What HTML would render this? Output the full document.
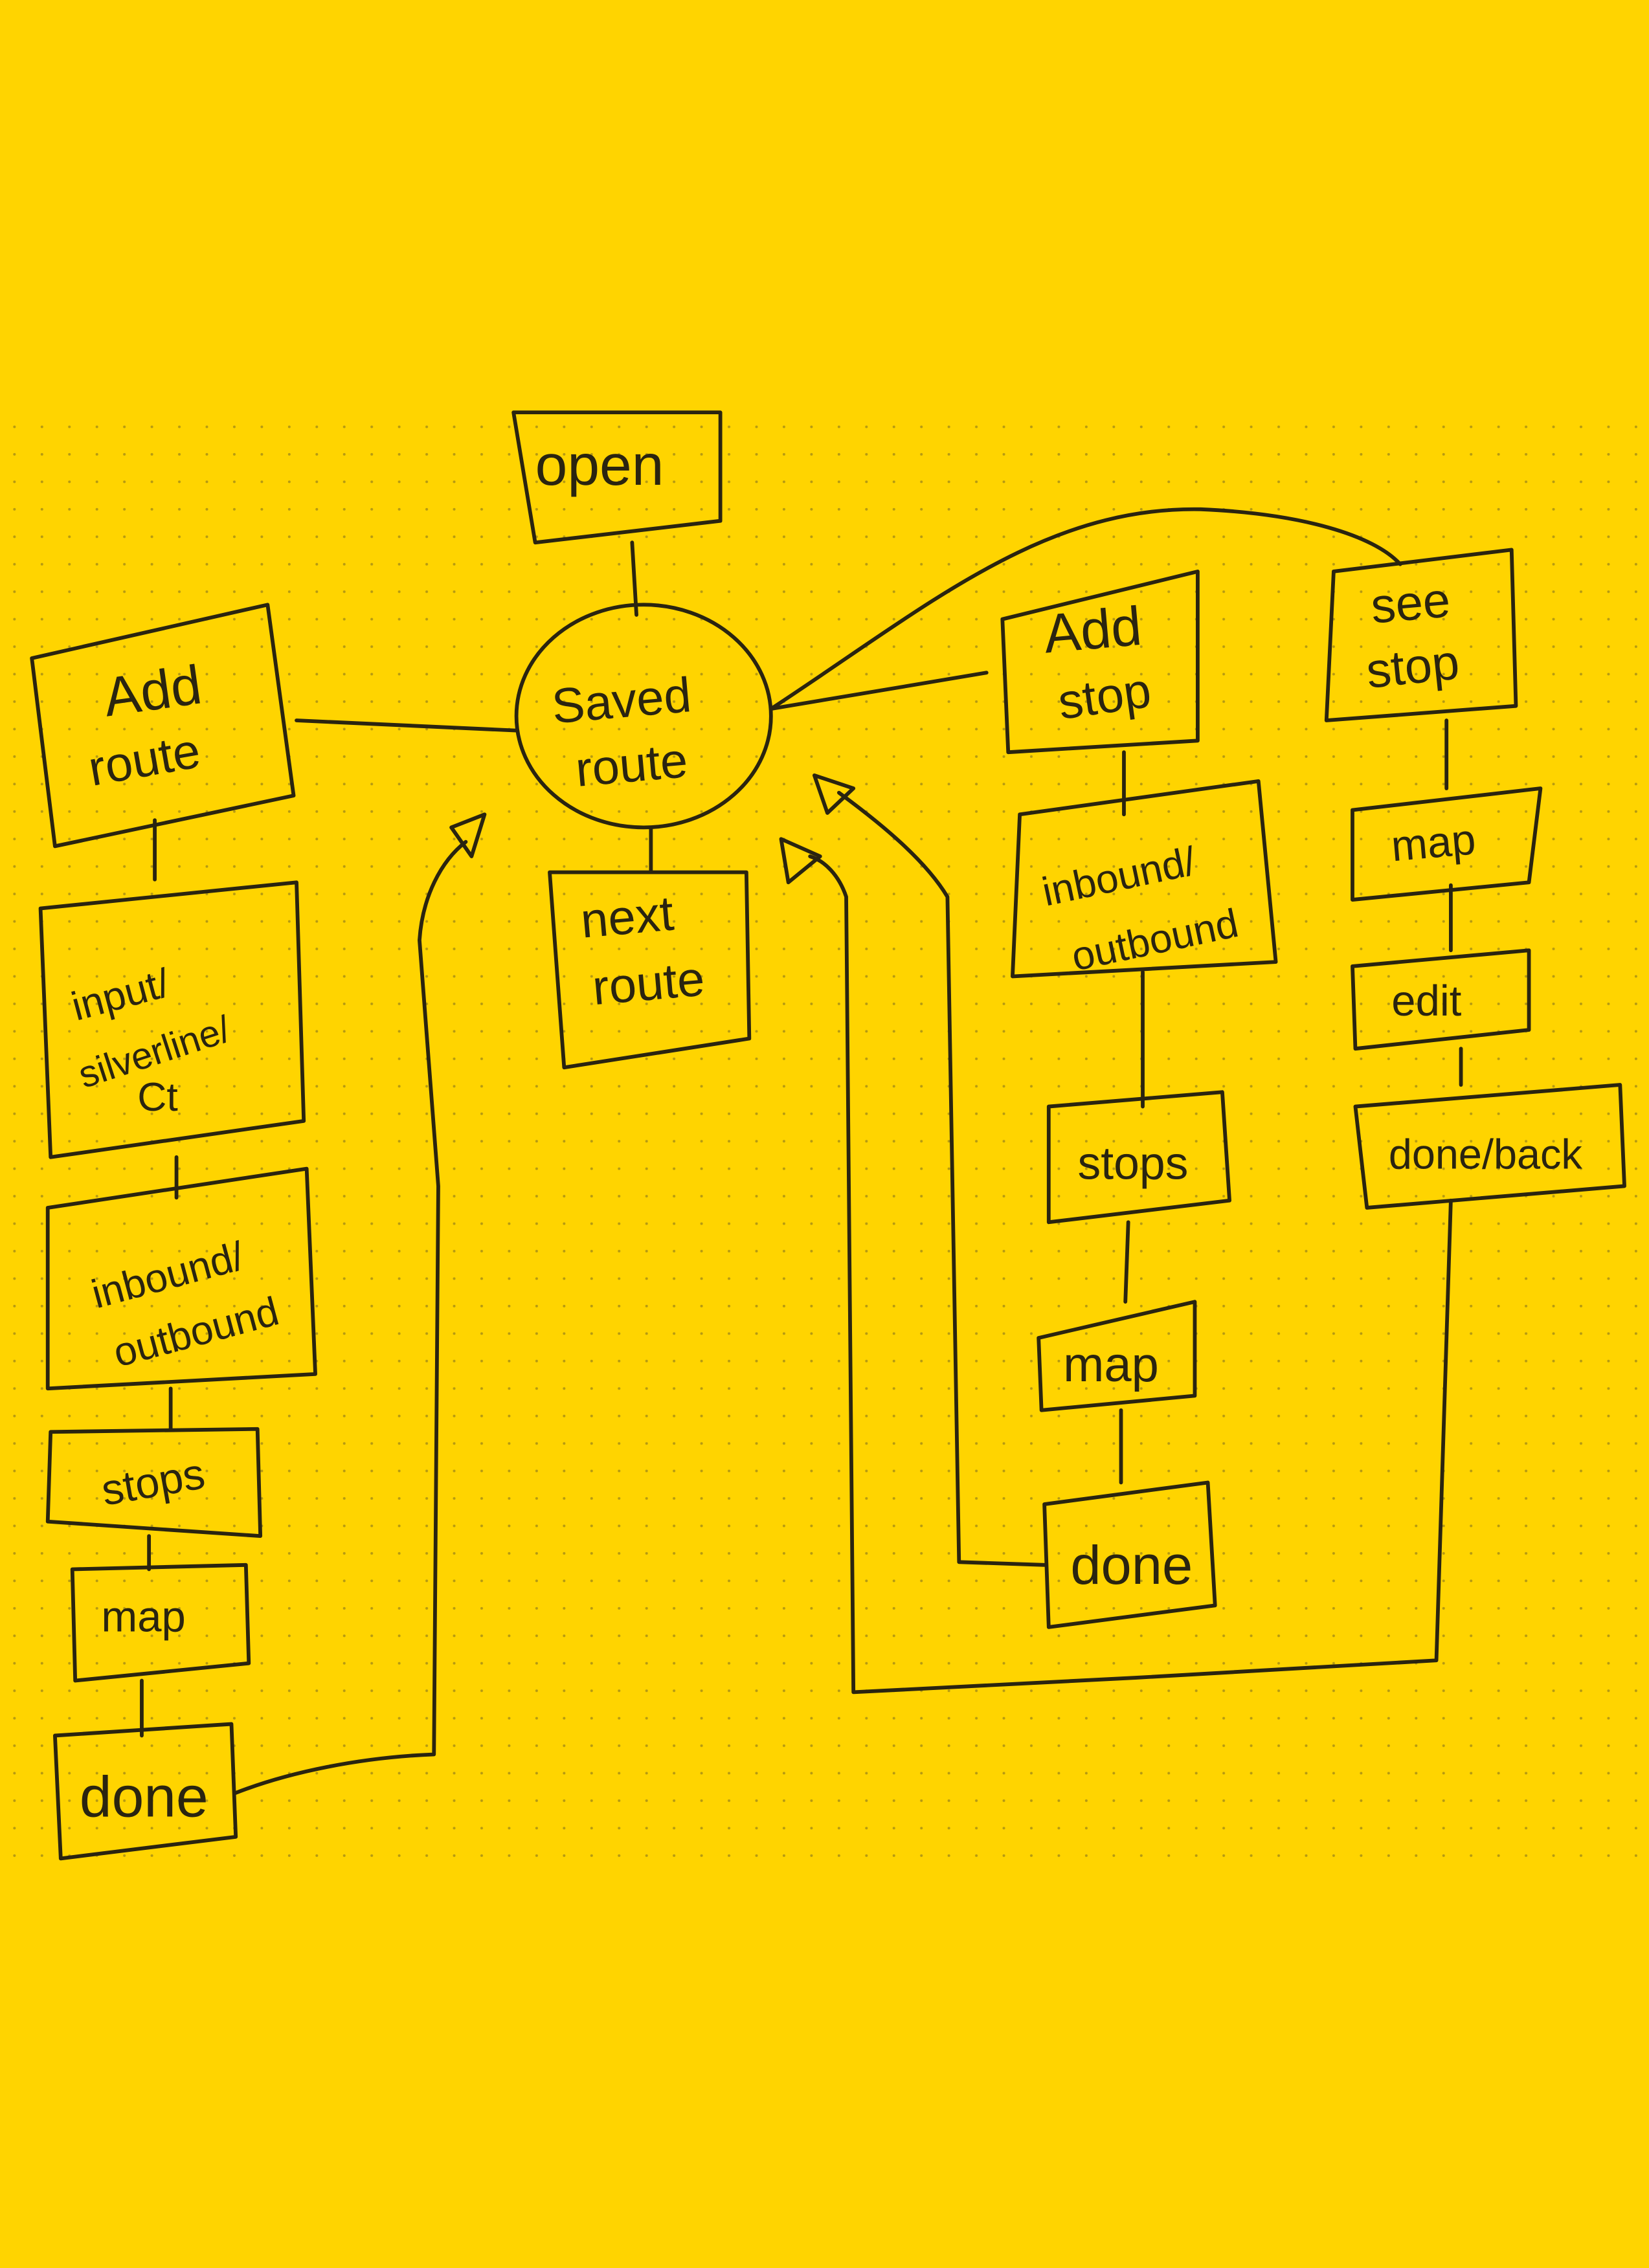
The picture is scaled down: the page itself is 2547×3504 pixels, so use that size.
<!DOCTYPE html>
<html><head><meta charset="utf-8"><style>
html,body{margin:0;padding:0;background:#FFD400;}
svg{display:block;}
text{font-family:"Liberation Sans",sans-serif;fill:#2a2410;}
</style></head><body>
<svg width="2547" height="3504" viewBox="0 0 1140 1568" xmlns="http://www.w3.org/2000/svg">
<defs>
<pattern id="dots" x="0" y="0" width="19" height="19" patternUnits="userSpaceOnUse">
<circle cx="10" cy="10" r="0.9" fill="#7a6a20" opacity="0.55"/>
</pattern>
</defs>
<rect width="1140" height="1568" fill="#FFD400"/>
<rect x="0" y="290" width="1140" height="1005" fill="url(#dots)"/>
<g fill="none" stroke="#2a2410" stroke-width="2.6" stroke-linejoin="round" stroke-linecap="round">
<!-- boxes -->
<polygon points="355,285 498,285 498,360 370,375"/>
<ellipse cx="445" cy="495" rx="88" ry="77"/>
<polygon points="380,603 516,603 518,718 390,738"/>
<polygon points="22,455 185,418 203,550 38,585"/>
<polygon points="28,628 205,610 210,775 35,800"/>
<polygon points="33,835 212,808 218,950 33,960"/>
<polygon points="35,990 178,988 180,1062 33,1052"/>
<polygon points="50,1085 170,1082 172,1150 52,1162"/>
<polygon points="38,1200 160,1192 163,1270 42,1285"/>
<polygon points="693,428 828,395 828,512 697,520"/>
<polygon points="705,563 870,540 882,665 700,675"/>
<polygon points="725,765 845,755 850,830 725,845"/>
<polygon points="718,925 826,900 826,965 720,975"/>
<polygon points="722,1040 835,1025 840,1110 725,1125"/>
<polygon points="922,395 1045,380 1048,488 917,498"/>
<polygon points="935,560 1065,545 1057,610 935,622"/>
<polygon points="935,668 1057,657 1057,712 937,725"/>
<polygon points="937,765 1120,750 1123,820 945,835"/>
<!-- connectors -->
<path d="M437,375 L440,425"/>
<path d="M205,498 L357,505"/>
<path d="M450,572 L450,603"/>
<path d="M533,490 L682,465"/>
<path d="M533,490 C640,420 720,350 830,352 C900,355 950,370 968,390"/>
<path d="M107,567 L107,608"/>
<path d="M122,800 L122,828"/>
<path d="M118,960 L118,988"/>
<path d="M103,1062 L103,1085"/>
<path d="M98,1162 L98,1200"/>
<path d="M162,1240 C200,1225 250,1215 300,1213 L303,820 L290,650 C292,620 305,595 322,582"/>
<polygon points="312,572 335,563 326,592" />
<path d="M777,520 L777,563"/>
<path d="M790,672 L790,765"/>
<path d="M780,845 L778,900"/>
<path d="M775,975 L775,1025"/>
<path d="M722,1082 L663,1080 L655,620 C640,595 610,570 580,548"/>
<polygon points="563,536 590,545 572,562"/>
<path d="M1003,830 L993,1148 L785,1160 L590,1170 L585,620 C580,605 570,595 560,592"/>
<polygon points="540,580 567,592 545,610"/>
<path d="M1000,498 L1000,545"/>
<path d="M1003,612 L1003,657"/>
<path d="M1010,725 L1010,750"/>
</g>
<g font-size="34">
<text x="370" y="335" font-size="40">open</text>
<text x="382" y="495" transform="rotate(-5 440 490)">Saved</text>
<text x="398" y="540" transform="rotate(-5 440 530)">route</text>
<text x="402" y="645" transform="rotate(-5 440 640)">next</text>
<text x="410" y="692" transform="rotate(-5 440 685)">route</text>
<text x="72" y="490" font-size="38" transform="rotate(-8 110 480)">Add</text>
<text x="62" y="535" transform="rotate(-10 110 530)">route</text>
<text x="48" y="690" font-size="28" transform="rotate(-15 110 680)">input/</text>
<text x="52" y="735" font-size="26" transform="rotate(-18 110 725)">silverline/</text>
<text x="95" y="768" font-size="28">Ct</text>
<text x="62" y="890" font-size="28" transform="rotate(-15 120 880)">inbound/</text>
<text x="78" y="932" font-size="28" transform="rotate(-15 130 925)">outbound</text>
<text x="70" y="1035" font-size="30" transform="rotate(-10 105 1025)">stops</text>
<text x="70" y="1128" font-size="30">map</text>
<text x="55" y="1256" font-size="40">done</text>
<text x="722" y="448" font-size="38" transform="rotate(-5 760 440)">Add</text>
<text x="732" y="492" transform="rotate(-8 770 485)">stop</text>
<text x="720" y="612" font-size="28" transform="rotate(-12 790 605)">inbound/</text>
<text x="740" y="660" font-size="28" transform="rotate(-12 795 650)">outbound</text>
<text x="745" y="815" font-size="32">stops</text>
<text x="735" y="955" font-size="34">map</text>
<text x="740" y="1095" font-size="38">done</text>
<text x="948" y="428" font-size="34" transform="rotate(-5 980 420)">see</text>
<text x="945" y="472" font-size="34" transform="rotate(-6 980 465)">stop</text>
<text x="962" y="592" font-size="30" transform="rotate(-5 1000 585)">map</text>
<text x="962" y="702" font-size="30">edit</text>
<text x="960" y="808" font-size="29">done/back</text>
</g>
</svg>
</body></html>
